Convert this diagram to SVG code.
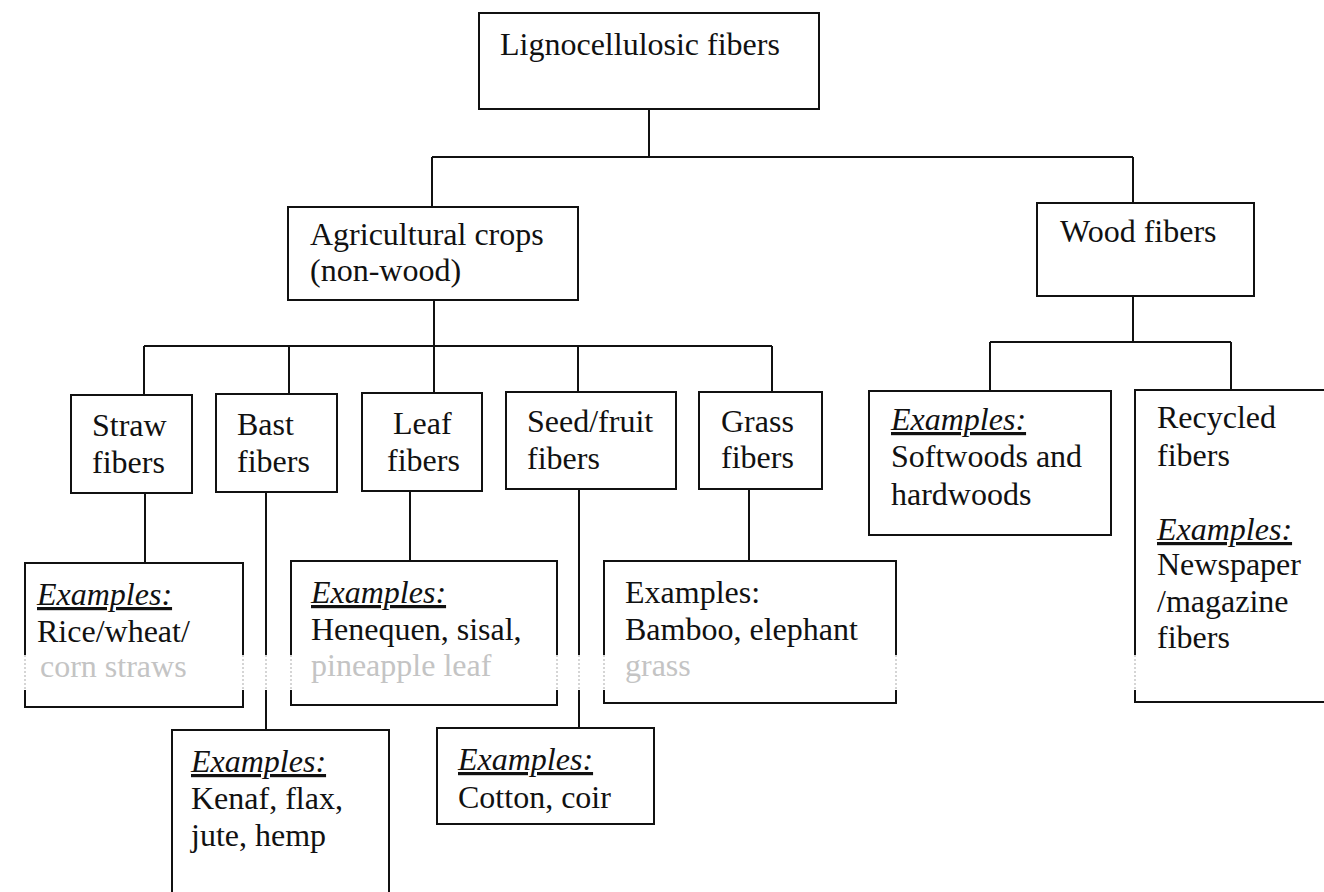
<svg xmlns="http://www.w3.org/2000/svg" width="1324" height="892" viewBox="0 0 1324 892">
<style>
.box{fill:none;stroke:#111;stroke-width:2}
.ln{fill:none;stroke:#111;stroke-width:2}
.faint{fill:none;stroke:#c8c8c8;stroke-width:1.5;stroke-dasharray:2 2}
text{font-family:"Liberation Serif","Times New Roman",serif;font-size:32px;fill:#111}
.ex{font-style:italic;text-decoration:underline}
.fade{fill:#c4c4c4}
</style>
<rect width="1324" height="892" fill="#fff"/>
<g id="connectors">
<path class="ln" d="M649 109V157M432 157H1133M432 157V207M1133 157V203"/>
<path class="ln" d="M434 300V346M144 346H772M144 346V395M289 346V394M434 346V393M578 346V392M772 346V392"/>
<path class="ln" d="M1133 296V342M990 342H1231M990 342V391M1231 342V390"/>
<path class="ln" d="M145 493V563M410 491V561M749 489V561"/>
<path class="ln" d="M266 492V655M266 690V730M579 489V655M579 690V728"/>
<path class="faint" d="M266 655V690M579 655V690"/>
</g>
<g id="n-root">
<rect class="box" x="479" y="13" width="340" height="96"/>
<text x="500" y="55">Lignocellulosic fibers</text>
</g>
<g id="n-agri">
<rect class="box" x="288" y="207" width="290" height="93"/>
<text x="310" y="245">Agricultural crops</text>
<text x="310" y="281">(non-wood)</text>
</g>
<g id="n-wood">
<rect class="box" x="1037" y="203" width="217" height="93"/>
<text x="1060" y="242">Wood fibers</text>
</g>
<g id="n-straw">
<rect class="box" x="71" y="395" width="121" height="98"/>
<text x="92" y="436">Straw</text>
<text x="92" y="473">fibers</text>
</g>
<g id="n-bast">
<rect class="box" x="216" y="394" width="121" height="98"/>
<text x="237" y="435">Bast</text>
<text x="237" y="472">fibers</text>
</g>
<g id="n-leaf">
<rect class="box" x="362" y="393" width="120" height="98"/>
<text x="393" y="434">Leaf</text>
<text x="387" y="471">fibers</text>
</g>
<g id="n-seed">
<rect class="box" x="506" y="392" width="170" height="97"/>
<text x="527" y="432">Seed/fruit</text>
<text x="527" y="469">fibers</text>
</g>
<g id="n-grass">
<rect class="box" x="699" y="392" width="123" height="97"/>
<text x="721" y="432">Grass</text>
<text x="721" y="468">fibers</text>
</g>
<g id="n-softwoods">
<rect class="box" x="869" y="391" width="242" height="144"/>
<text x="891" y="430" class="ex">Examples:</text>
<text x="891" y="467">Softwoods and</text>
<text x="891" y="505">hardwoods</text>
</g>
<g id="n-recycled">
<path class="box" d="M1135 655V390H1330M1135 690V702H1330"/>
<path class="faint" d="M1135 655V690"/>
<text x="1157" y="428">Recycled</text>
<text x="1157" y="466">fibers</text>
<text x="1157" y="540" class="ex">Examples:</text>
<text x="1157" y="575">Newspaper</text>
<text x="1157" y="612">/magazine</text>
<text x="1157" y="648">fibers</text>
</g>
<g id="n-straw-ex">
<path class="box" d="M25 655V563H243V655M25 690V707H243V690"/>
<path class="faint" d="M25 655V690M243 655V690"/>
<text x="37" y="605" class="ex">Examples:</text>
<text x="37" y="642">Rice/wheat/</text>
<text x="40" y="677" class="fade">corn straws</text>
</g>
<g id="n-leaf-ex">
<path class="box" d="M291 655V561H557V655M291 690V705H557V690"/>
<path class="faint" d="M291 655V690M557 655V690"/>
<text x="311" y="603" class="ex">Examples:</text>
<text x="311" y="640">Henequen, sisal,</text>
<text x="311" y="676" class="fade">pineapple leaf</text>
</g>
<g id="n-grass-ex">
<path class="box" d="M604 655V561H896V655M604 690V703H896V690"/>
<path class="faint" d="M604 655V690M896 655V690"/>
<text x="625" y="603">Examples:</text>
<text x="625" y="640">Bamboo, elephant</text>
<text x="625" y="676" class="fade">grass</text>
</g>
<g id="n-bast-ex">
<path class="box" d="M172 900V730H389V900"/>
<text x="191" y="772" class="ex">Examples:</text>
<text x="191" y="809">Kenaf, flax,</text>
<text x="191" y="846">jute, hemp</text>
</g>
<g id="n-seed-ex">
<rect class="box" x="437" y="728" width="217" height="96"/>
<text x="458" y="770" class="ex">Examples:</text>
<text x="458" y="808">Cotton, coir</text>
</g>
</svg>
